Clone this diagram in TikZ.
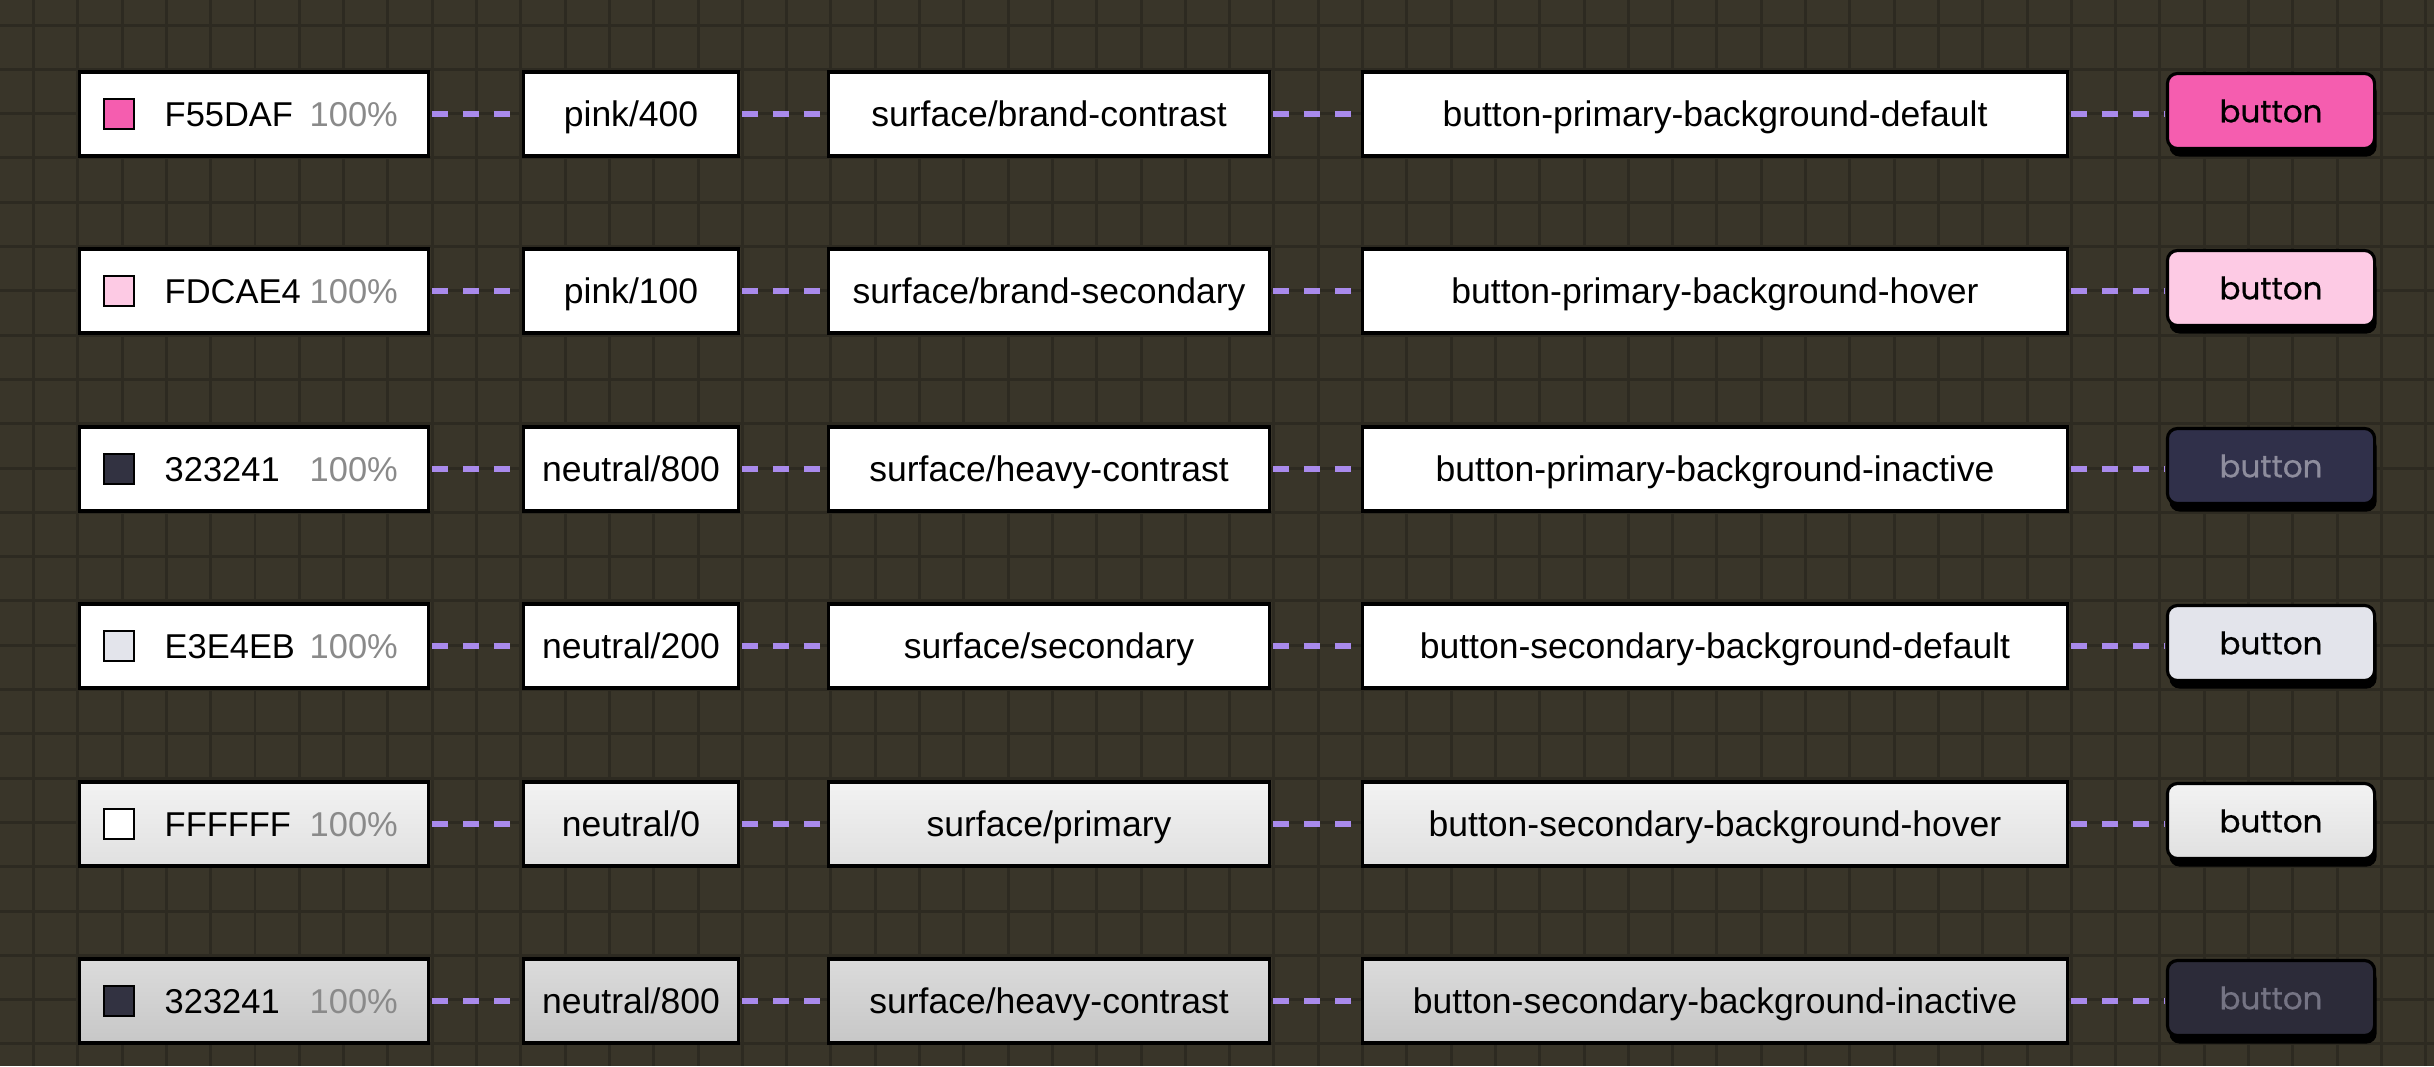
\documentclass[tikz,border=0pt]{standalone}
\usepackage{fontspec}
\setmainfont{Liberation Sans}
\newfontfamily\btnfont[FakeBold=0.5]{Poppins}
\usepackage{tikz}
\usetikzlibrary{shadows}
\usepackage{xcolor}
\definecolor{canvasbg}{RGB}{57,53,41}
\definecolor{gridcol}{RGB}{45,42,33}
\definecolor{linkpurple}{RGB}{169,138,236}
\definecolor{pctgray}{RGB}{138,138,138}
\definecolor{pinkA}{HTML}{F55DAF}
\definecolor{pinkB}{HTML}{FDCAE4}
\definecolor{neutralA}{HTML}{323241}
\definecolor{neutralB}{HTML}{E3E4EB}
\definecolor{btninkA}{RGB}{142,141,157}
\definecolor{btninkB}{RGB}{117,116,132}
\definecolor{btndark}{RGB}{44,43,57}
\tikzstyle{tokbox} = [draw=black, line width=1pt, fill=white, inner sep=0pt, minimum height=0.84cm, font=\fontsize{10.1}{12}\selectfont, text height=7.2pt, text depth=0pt]
\tikzstyle{hexbox} = [tokbox, minimum width=3.49cm]
\tikzstyle{primbox} = [tokbox, minimum width=2.15cm]
\tikzstyle{sembox} = [tokbox, minimum width=4.41cm]
\tikzstyle{compbox} = [tokbox, minimum width=7.05cm]
\tikzstyle{paleshade} = [top color=white!95!black, bottom color=white!88!black]
\tikzstyle{greyshade} = [top color=white!86!black, bottom color=white!78!black]
\tikzstyle{swatch} = [draw=black, line width=0.6pt, minimum size=0.3cm, inner sep=0pt]
\tikzstyle{hexlabel} = [anchor=west, inner sep=0pt, font=\fontsize{9.8}{12}\selectfont, text height=7pt, text depth=0pt]
\tikzstyle{pctlabel} = [hexlabel, text=pctgray]
\tikzstyle{btn} = [draw=black, line width=0.9pt, rounded corners=0.1cm, minimum width=2.07cm, minimum height=0.75cm, inner sep=0pt, font=\btnfont\fontsize{8.8}{10}\selectfont, text height=6.4pt, text depth=0pt, drop shadow={shadow xshift=0.02cm, shadow yshift=-0.08cm, fill=black, opacity=1}]
\tikzstyle{link} = [line width=1.6pt, color=linkpurple, dash pattern=on 4.5pt off 4.3pt, shorten <=0.5pt, shorten >=0.5pt]

\begin{document}
\begin{tikzpicture}[x=0.01cm, y=-0.01cm]
    \useasboundingbox (0,0) rectangle (2434,1066);

    % Canvas and grid
    \fill[canvasbg] (0,0) rectangle (2434,1066);
    \foreach \gx in {0,...,54}
        \draw[gridcol, line width=0.85pt] ({33.5+44.3*\gx},0) -- ++(0,1066);
    \foreach \gy in {0,...,23}
        \draw[gridcol, line width=0.85pt] (0,{25+44.3*\gy}) -- ++(2434,0);

    % Row 1
    \node[hexbox] (hex1) at (254,114) {};
    \node[swatch, fill=pinkA] (sw1) at (119,114) {};
    \node[hexlabel] (code1) at (164,114) {F55DAF};
    \node[pctlabel] (pct1) at (309,114) {100\%};
    \node[primbox] (prim1) at (631,114) {pink/400};
    \node[sembox] (sem1) at (1049,114) {surface/brand-contrast};
    \node[compbox] (comp1) at (1715,114) {button-primary-background-default};
    \node[btn, fill=pinkA] (btn1) at (2271,111) {button};

    % Row 2
    \node[hexbox] (hex2) at (254,291) {};
    \node[swatch, fill=pinkB] (sw2) at (119,291) {};
    \node[hexlabel] (code2) at (164,291) {FDCAE4};
    \node[pctlabel] (pct2) at (309,291) {100\%};
    \node[primbox] (prim2) at (631,291) {pink/100};
    \node[sembox] (sem2) at (1049,291) {surface/brand-secondary};
    \node[compbox] (comp2) at (1715,291) {button-primary-background-hover};
    \node[btn, fill=pinkB] (btn2) at (2271,288) {button};

    % Row 3
    \node[hexbox] (hex3) at (254,469) {};
    \node[swatch, fill=neutralA] (sw3) at (119,469) {};
    \node[hexlabel] (code3) at (164,469) {323241};
    \node[pctlabel] (pct3) at (309,469) {100\%};
    \node[primbox] (prim3) at (631,469) {neutral/800};
    \node[sembox] (sem3) at (1049,469) {surface/heavy-contrast};
    \node[compbox] (comp3) at (1715,469) {button-primary-background-inactive};
    \node[btn, fill=neutralA!95!blue, text=btninkA] (btn3) at (2271,466) {button};

    % Row 4
    \node[hexbox] (hex4) at (254,646) {};
    \node[swatch, fill=neutralB] (sw4) at (119,646) {};
    \node[hexlabel] (code4) at (164,646) {E3E4EB};
    \node[pctlabel] (pct4) at (309,646) {100\%};
    \node[primbox] (prim4) at (631,646) {neutral/200};
    \node[sembox] (sem4) at (1049,646) {surface/secondary};
    \node[compbox] (comp4) at (1715,646) {button-secondary-background-default};
    \node[btn, fill=neutralB] (btn4) at (2271,643) {button};

    % Row 5
    \node[hexbox, paleshade] (hex5) at (254,824) {};
    \node[swatch, fill=white] (sw5) at (119,824) {};
    \node[hexlabel] (code5) at (164,824) {FFFFFF};
    \node[pctlabel] (pct5) at (309,824) {100\%};
    \node[primbox, paleshade] (prim5) at (631,824) {neutral/0};
    \node[sembox, paleshade] (sem5) at (1049,824) {surface/primary};
    \node[compbox, paleshade] (comp5) at (1715,824) {button-secondary-background-hover};
    \node[btn, paleshade] (btn5) at (2271,821) {button};

    % Row 6
    \node[hexbox, greyshade] (hex6) at (254,1001) {};
    \node[swatch, fill=neutralA] (sw6) at (119,1001) {};
    \node[hexlabel] (code6) at (164,1001) {323241};
    \node[pctlabel] (pct6) at (309,1001) {100\%};
    \node[primbox, greyshade] (prim6) at (631,1001) {neutral/800};
    \node[sembox, greyshade] (sem6) at (1049,1001) {surface/heavy-contrast};
    \node[compbox, greyshade] (comp6) at (1715,1001) {button-secondary-background-inactive};
    \node[btn, fill=btndark, text=btninkB] (btn6) at (2271,998) {button};

    % Links
    \foreach \r in {1,...,6} {
        \draw[link] (hex\r) -- (prim\r);
        \draw[link] (prim\r) -- (sem\r);
        \draw[link] (sem\r) -- (comp\r);
        \draw[link] (comp\r.east) -- (comp\r.east -| btn\r.west);
    }
\end{tikzpicture}
\end{document}
